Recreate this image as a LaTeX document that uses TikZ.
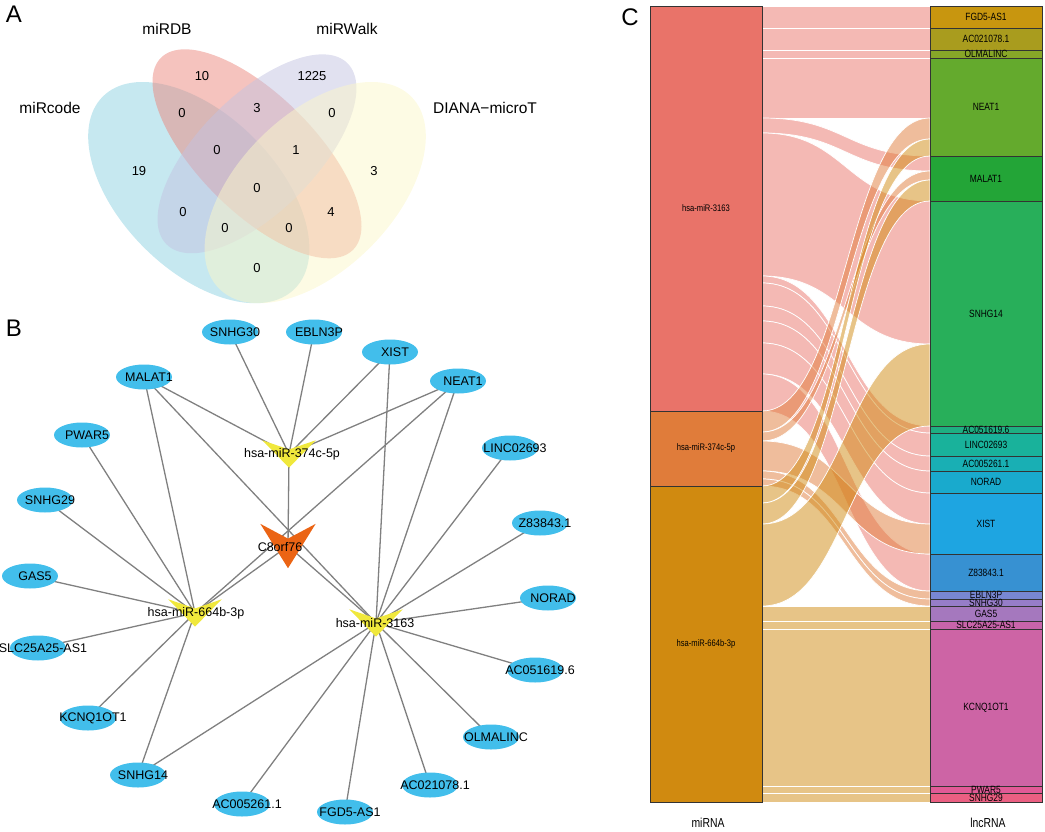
\documentclass[tikz,border=0pt]{standalone}
\usepackage{fontspec}
\setmainfont{Liberation Sans}
\newfontfamily\narrow[FakeStretch=0.8]{Liberation Sans}
\usetikzlibrary{shapes.geometric,calc}

% Venn colours
\definecolor{venblue}{RGB}{141,209,225}
\definecolor{venred}{RGB}{235,135,125}
\definecolor{venpurple}{RGB}{195,195,225}
\definecolor{venyellow}{RGB}{251,247,201}
% network colours
\definecolor{nodeblue}{RGB}{66,190,235}
\definecolor{edgegray}{RGB}{128,128,128}
\definecolor{vyellow}{RGB}{240,232,60}
\definecolor{vorange}{RGB}{235,100,20}
% sankey colours
\definecolor{mirRed}{RGB}{233,115,105}
\definecolor{mirOrange}{RGB}{224,124,58}
\definecolor{mirGold}{RGB}{208,138,16}
\definecolor{rFgd}{HTML}{C8960F}
\definecolor{rAcb}{HTML}{A99C1E}
\definecolor{rOlm}{HTML}{87A628}
\definecolor{rNea}{HTML}{64AA2D}
\definecolor{rMal}{HTML}{23A537}
\definecolor{rSnf}{HTML}{28AF5A}
\definecolor{rAcf}{HTML}{1EAF82}
\definecolor{rLin}{HTML}{19B29B}
\definecolor{rAcd}{HTML}{19AFB4}
\definecolor{rNor}{HTML}{19AACD}
\definecolor{rXis}{HTML}{1EA5E1}
\definecolor{rZeb}{HTML}{3791D2}
\definecolor{rEbl}{HTML}{7887D2}
\definecolor{rSnt}{HTML}{967DC8}
\definecolor{rGas}{HTML}{A578BE}
\definecolor{rSlc}{HTML}{C864AA}
\definecolor{rKcn}{HTML}{CD64A5}
\definecolor{rPwa}{HTML}{E15A96}
\definecolor{rSnn}{HTML}{EB5F82}

\pgfdeclarelayer{bg}
\pgfsetlayers{bg,main}

\tikzset{
  panel/.style={font=\fontsize{24}{24}\selectfont, inner sep=0pt},
  setlab/.style={font=\fontsize{15.5}{15.5}\selectfont, inner sep=0pt},
  num/.style={font=\fontsize{13}{13}\selectfont, inner sep=0pt},
  lnc/.style={ellipse, fill=nodeblue, minimum width=56pt, minimum height=25pt, inner sep=0pt},
  netlab/.style={font=\fontsize{12.5}{12.5}\selectfont, inner sep=0pt},
  vbox/.style={rectangle, minimum width=53pt, minimum height=27pt, inner sep=0pt},
  edge/.style={draw=edgegray, line width=1.3pt},
  stratum/.style={draw=black!80, line width=0.7pt},
  leftlab/.style={font=\narrow\fontsize{9.5}{9.5}\selectfont, inner sep=0pt},
  rightlab/.style={font=\narrow\fontsize{10.5}{10.5}\selectfont, inner sep=0pt},
  axislab/.style={font=\narrow\fontsize{13}{13}\selectfont, inner sep=0pt},
}

\newcommand{\chevron}[2]{\fill[#2] (#1.north west) -- ($(#1.north)!0.667!(#1.center)$) -- (#1.north east) -- (#1.south) -- cycle;}
\newcommand{\flow}[5]{\filldraw[fill=#5, fill opacity=0.5, draw=white, line width=0.7pt] (762,#1) .. controls (846,#1) and (846,#3) .. (930,#3) -- (930,#4) .. controls (846,#4) and (846,#2) .. (762,#2) -- cycle;}

\begin{document}
\begin{tikzpicture}[x=1pt, y=-1pt]
  \useasboundingbox (0,0) rectangle (1045,831);

  % Panel letters
  \node[panel] (pa) at (14,14) {A};
  \node[panel] (pb) at (14,328) {B};
  \node[panel] (pc) at (630,17) {C};

  % Venn ellipses
  \fill[venblue, fill opacity=.5, rotate around={-45:(198.8,192.6)}] (198.8,192.6) ellipse (135.8pt and 77.6pt);
  \fill[venred, fill opacity=.5, rotate around={-45:(257,153.8)}] (257,153.8) ellipse (135.8pt and 58.2pt);
  \fill[venpurple, fill opacity=.5, rotate around={45:(257,153.8)}] (257,153.8) ellipse (128pt and 58.2pt);
  \fill[venyellow, fill opacity=.5, rotate around={45:(315.2,192.6)}] (315.2,192.6) ellipse (135.8pt and 77.6pt);

  % Venn labels
  \node[setlab] (lcode) at (50,108) {miRcode};
  \node[setlab] (ldb) at (167,29) {miRDB};
  \node[setlab] (lwalk) at (347,29) {miRWalk};
  \node[setlab] (ldiana) at (485,108) {DIANA−microT};
  \foreach \x/\y/\t [count=\i] in {202/76/10, 312/76/1225, 182/113/0, 257/108/3, 332/113/0,
      139/171/19, 217/150/0, 296/150/1, 374/171/3, 257/188/0, 183/212/0, 331/212/4,
      225/228/0, 289/228/0, 257/268/0}
    \node[num] (v\i) at (\x,\y) {\t};

  % Network nodes
  \foreach \n/\x/\y/\t in {snhg30/230/332/SNHG30, ebln3p/314/332/EBLN3P, xist/390/352/XIST,
      neat1/458/381/NEAT1, malat1/144/377/MALAT1, pwar5/82/435/PWAR5, snhg29/45/500/SNHG29,
      linc/510/448/LINC02693, z838/540/523/Z83843.1, norad/548/598/NORAD,
      ac0516/535/670/AC051619.6, olmal/491/737/OLMALINC, ac0210/430/785/AC021078.1,
      fgd5/345/812/FGD5-AS1, ac0052/242/804/AC005261.1, snhg14/138/775/SNHG14,
      kcnq/88/718/KCNQ1OT1, slc/38/648/SLC25A25-AS1, gas5/30/576/GAS5}
    \node[lnc, label={[netlab, xshift=5pt]center:\t}] (\n) at (\x,\y) {};
  \node[vbox, minimum width=55pt, minimum height=44pt] (c8orf) at (288,546) {};
  \node[vbox] (m374) at (289,454) {};
  \node[vbox] (m664) at (195,613) {};
  \node[vbox] (m3163) at (376,623) {};

  % Network edges
  \begin{pgfonlayer}{bg}
    \foreach \a/\b in {m374/snhg30, m374/ebln3p, m374/xist, m374/neat1, m374/malat1, m374/c8orf,
        c8orf/m664, c8orf/m3163, m664/malat1, m664/neat1, m664/pwar5, m664/snhg29, m664/gas5,
        m664/slc, m664/kcnq, m664/snhg14, m3163/malat1, m3163/xist, m3163/neat1, m3163/linc,
        m3163/z838, m3163/norad, m3163/ac0516, m3163/olmal, m3163/ac0210, m3163/fgd5,
        m3163/ac0052, m3163/snhg14}
      \draw[edge] (\a.center) -- (\b.center);
  \end{pgfonlayer}

  \chevron{c8orf}{vorange}
  \chevron{m374}{vyellow}
  \chevron{m664}{vyellow}
  \chevron{m3163}{vyellow}
  \node[netlab] (c8orf-t) at (280,547) {C8orf76};
  \node[netlab] (m374-t) at (292,454) {hsa-miR-374c-5p};
  \node[netlab] (m664-t) at (196,613) {hsa-miR-664b-3p};
  \node[netlab] (m3163-t) at (375,623) {hsa-miR-3163};

  % Sankey flows
  \foreach \a/\b/\c/\d in {6/28/6/28, 28/50/28/50, 50/58/50/58, 58/118/58/118, 118/133/156/171,
      133/276/201/344, 276/283/426/433, 283/306/433/456, 306/321/456/471, 321/343/471/493,
      343/374/493/524, 374/411/554/591}
    {\flow{\a}{\b}{\c}{\d}{mirRed}}
  \foreach \a/\b/\c/\d in {411/432/118/139, 432/441/171/180, 441/471/524/554, 471/479/591/599,
      479/486/599/606}
    {\flow{\a}{\b}{\c}{\d}{mirOrange}}
  \foreach \a/\b/\c/\d in {486/503/139/156, 503/524/180/201, 524/606/344/426, 606/621/606/621,
      621/629/621/629, 629/786/629/786, 786/793/786/793, 793/802/793/802}
    {\flow{\a}{\b}{\c}{\d}{mirGold}}

  % Sankey strata
  \foreach \n/\a/\b/\c/\t in {s3163/6/411/mirRed/hsa-miR-3163, s374/411/486/mirOrange/hsa-miR-374c-5p,
      s664/486/802/mirGold/hsa-miR-664b-3p}
  {
    \filldraw[stratum, fill=\c] (650,\a) rectangle (762,\b);
    \node[leftlab] (\n) at (706,{(\a+\b)/2}) {\t};
  }
  \foreach \n/\a/\b/\c/\t in {rfgd/6/28/rFgd/FGD5-AS1, racb/28/50/rAcb/AC021078.1,
      rolm/50/58/rOlm/OLMALINC, rnea/58/156/rNea/NEAT1, rmal/156/201/rMal/MALAT1,
      rsnf/201/426/rSnf/SNHG14, racf/426/433/rAcf/AC051619.6, rlin/433/456/rLin/LINC02693,
      racd/456/471/rAcd/AC005261.1, rnor/471/493/rNor/NORAD, rxis/493/554/rXis/XIST,
      rzeb/554/591/rZeb/Z83843.1, rebl/591/599/rEbl/EBLN3P, rsnt/599/606/rSnt/SNHG30,
      rgas/606/621/rGas/GAS5, rslc/621/629/rSlc/SLC25A25-AS1, rkcn/629/786/rKcn/KCNQ1OT1,
      rpwa/786/793/rPwa/PWAR5, rsnn/793/802/rSnn/SNHG29}
  {
    \filldraw[stratum, fill=\c] (930,\a) rectangle (1042,\b);
    \node[rightlab] (\n) at (986,{(\a+\b)/2}) {\t};
  }
  \node[axislab] (xmir) at (708,823) {miRNA};
  \node[axislab] (xlnc) at (988,823) {lncRNA};
\end{tikzpicture}
\end{document}
